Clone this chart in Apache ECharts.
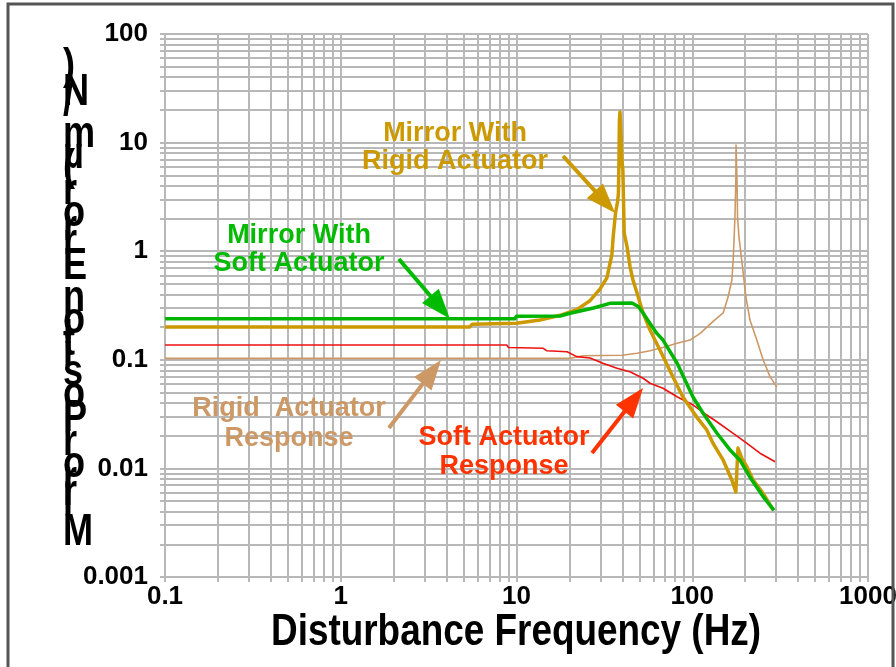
<!DOCTYPE html>
<html><head><meta charset="utf-8">
<script src="https://cdn.jsdelivr.net/npm/echarts@6/dist/echarts.min.js"></script>
<style>html,body{margin:0;padding:0;background:#fff}#c{width:896px;height:667px}</style>
</head><body><div id="c"></div>
<script>
// ---- tick labels ----
const xTickLabels = [0.1, 1, 10, 100, 1000];
const yTickLabels = [0.001, 0.01, 0.1, 1, 10, 100];

// ---- Mirror With Soft Actuator (green) ----
const softMirrorFreq = [0.1, 9.8, 10, 17.7, 20.2, 27.4, 34, 45.4, 49.3, 52.5, 57.5, 62.9, 68.2, 81.9, 101, 115, 138, 164, 187, 213, 253, 292];
const softMirrorResp = [0.239, 0.239, 0.252, 0.253, 0.268, 0.30, 0.331, 0.333, 0.31, 0.27, 0.216, 0.175, 0.152, 0.0935, 0.0454, 0.0324, 0.0212, 0.0148, 0.0119, 0.0083, 0.0055, 0.0041];

// ---- Mirror With Rigid Actuator (gold) ----
const rigidMirrorFreq = [0.1, 5.4, 5.6, 10, 13.6, 17.7, 22, 26.2, 29.9, 32.7, 34.9, 35.5, 36.6, 37.6, 38.0, 38.3, 38.5, 38.8, 39.6, 39.8, 40.3, 41.0, 42.6, 44.3, 46.0, 48.5, 52.5, 57.5, 65.5, 77.7, 88.5, 106, 121, 131, 150, 168, 177, 181, 182, 185, 192, 205, 222, 253, 289];
const rigidMirrorResp = [0.2, 0.2, 0.213, 0.217, 0.2325, 0.257, 0.29, 0.35, 0.45, 0.57, 0.93, 1.36, 2.25, 2.86, 3.4, 6.9, 16.1, 19.1, 19.1, 6.9, 5.6, 1.47, 1.09, 0.715, 0.543, 0.412, 0.27, 0.188, 0.123, 0.0695, 0.0454, 0.0297, 0.0226, 0.01714, 0.0119, 0.00782, 0.00607, 0.00607, 0.0154, 0.0154, 0.0123, 0.0103, 0.0078, 0.0059, 0.00414];

// ---- Rigid Actuator Response (tan) ----
const rigidActFreq = [0.1, 20, 24, 40, 48.5, 57.5, 68, 82, 97, 111, 131, 150, 160, 168, 171, 175, 177, 177.5, 179.5, 180, 181, 184.5, 192, 202, 213, 233, 253, 277, 303];
const rigidActResp = [0.103, 0.103, 0.109, 0.11, 0.115, 0.121, 0.13, 0.142, 0.152, 0.175, 0.225, 0.27, 0.38, 0.54, 0.83, 2.08, 4.5, 9.5, 9.5, 4.0, 2.07, 1.35, 0.78, 0.38, 0.232, 0.152, 0.1, 0.07, 0.056];

// ---- Soft Actuator Response (red) ----
const softActFreq = [0.1, 8.8, 9.0, 14.2, 14.9, 19.4, 22, 26.2, 31, 37.3, 44.2, 52.5, 57.5, 68.2, 81.9, 101, 121, 138, 171, 205, 243, 296];
const softActResp = [0.137, 0.137, 0.13, 0.1276, 0.121, 0.1185, 0.107, 0.104, 0.093, 0.0835, 0.0777, 0.0676, 0.0608, 0.0547, 0.0457, 0.0384, 0.031, 0.0269, 0.021, 0.017, 0.0138, 0.0115];

// ---- annotation arrows: [startFreq, startResp, tipFreq, tipResp] ----
const arrowRigidMirror = [18.4, 7.53, 36.4, 2.25];
const arrowSoftMirror = [2.14, 0.848, 4.18, 0.239];
const arrowRigidAct = [1.88, 0.02355, 3.72, 0.0996];
const arrowSoftAct = [26.9, 0.01387, 52.5, 0.055];

const yTitle = 'Mirror Position Error (\u00b5m/N)';
const xTitle = 'Disturbance Frequency (Hz)';

const SANS = '"Liberation Sans", Arial, sans-serif';
const NARROW_SCALE = 0.82;
const gridColor = '#b8b8b8';

function pairs(f, v) { return f.map((x, i) => [x, v[i]]); }
function logGrid(lo, hi) {
  const out = [];
  for (let e = lo; e < hi; e++) {
    const b = Math.pow(10, e);
    for (let k = 1; k <= 9; k++) out.push(+(k * b).toPrecision(3));
  }
  out.push(+Math.pow(10, hi).toPrecision(3));
  return out;
}
const xGrid = logGrid(-1, 3);
const yGrid = logGrid(-3, 2);
const fmt = v => String(+(+v).toPrecision(3));

const chart = echarts.init(document.getElementById('c'), null, { renderer: 'canvas' });

function axisCommon(grid, labelMargin) {
  return {
    type: 'log', logBase: 10,
    axisLine: { show: true, onZero: false, lineStyle: { color: gridColor, width: 2 } },
    axisTick: { show: true, length: 5, customValues: grid, lineStyle: { color: gridColor, width: 2 } },
    splitLine: { show: true, lineStyle: { color: gridColor, width: 2 } },
    axisLabel: { formatter: fmt, fontFamily: SANS, fontWeight: 'bold', fontSize: 26, color: '#000', margin: labelMargin }
  };
}

const xAxis = Object.assign(axisCommon(xGrid, 7), {
  min: xTickLabels[0], max: xTickLabels[xTickLabels.length - 1]
});
xAxis.axisLabel.customValues = xTickLabels;
const yAxis = Object.assign(axisCommon(yGrid, 17), {
  min: yTickLabels[0], max: yTickLabels[yTickLabels.length - 1]
});
yAxis.axisLabel.customValues = yTickLabels;

function lineSeries(name, f, v, color, width, z) {
  return {
    name, type: 'line', data: pairs(f, v), showSymbol: false, symbol: 'none',
    lineStyle: { color, width, join: 'round' }, z, animation: false, silent: true
  };
}

chart.setOption({
  animation: false,
  backgroundColor: '#fff',
  grid: { left: 165, right: 28, top: 34, bottom: 90, containLabel: false, outerBoundsMode: 'none' },
  xAxis, yAxis,
  series: [
    lineSeries('Rigid Actuator Response', rigidActFreq, rigidActResp, '#cc9966', 1.6, 2),
    lineSeries('Soft Actuator Response', softActFreq, softActResp, '#ee1111', 1.6, 3),
    lineSeries('Mirror With Rigid Actuator', rigidMirrorFreq, rigidMirrorResp, '#cc9900', 3.5, 4),
    lineSeries('Mirror With Soft Actuator', softMirrorFreq, softMirrorResp, '#00b400', 3.5, 5)
  ]
});

// ---- graphics: frame, titles, annotation texts, arrows ----
const graphics = [];
graphics.push({ type: 'rect', shape: { x: 8, y: 4, width: 885, height: 720 }, style: { fill: 'none', stroke: '#555', lineWidth: 3 }, silent: true, z: 100 });

// x-axis title (condensed bold)
graphics.push({ type: 'text', x: 516, y: 633, scaleX: NARROW_SCALE, silent: true, z: 100,
  style: { text: xTitle, font: 'bold 45px ' + SANS, fill: '#000', align: 'center', verticalAlign: 'middle' } });

// stacked y-axis title: upright glyphs advanced upwards by their (condensed) widths
const ctx = document.createElement('canvas').getContext('2d');
const yFontSize = 44;
const yFont = 'bold ' + yFontSize + 'px ' + SANS;
ctx.font = yFont;
let base = 548;
for (const ch of yTitle) {
  const w = ctx.measureText(ch).width * NARROW_SCALE;
  if (ch !== ' ') {
    graphics.push({ type: 'text', x: 63, y: base - 15, scaleX: NARROW_SCALE, silent: true, z: 100,
      style: { text: ch, font: yFont, fill: '#000', align: 'left', verticalAlign: 'middle' } });
  }
  base -= w;
}

function note(text, x, y, color, lh) {
  graphics.push({ type: 'text', x, y, silent: true, z: 100,
    style: { text, font: 'bold 27px ' + SANS, fill: color, align: 'center', verticalAlign: 'middle', lineHeight: lh } });
}
note('Mirror With\nRigid Actuator', 455, 148, '#cc9900', 28);
note('Mirror With\nSoft Actuator', 299, 250, '#00bb00', 28);
note('Rigid  Actuator\nResponse', 289, 424, '#cc9966', 30);
note('Soft Actuator\nResponse', 504, 452, '#ff3300', 29);

function arrow(a, color) {
  const p0 = chart.convertToPixel({ gridIndex: 0 }, [a[0], a[1]]);
  const p1 = chart.convertToPixel({ gridIndex: 0 }, [a[2], a[3]]);
  const dx = p1[0] - p0[0], dy = p1[1] - p0[1];
  const L = Math.hypot(dx, dy), ux = dx / L, uy = dy / L;
  const hl = 30, hw = 11;
  const bx = p1[0] - ux * hl, by = p1[1] - uy * hl;
  graphics.push({ type: 'line', silent: true, z: 101, shape: { x1: p0[0], y1: p0[1], x2: bx + ux * 2, y2: by + uy * 2 }, style: { stroke: color, lineWidth: 4 } });
  graphics.push({ type: 'polygon', silent: true, z: 101, shape: { points: [[p1[0], p1[1]], [bx - uy * hw, by + ux * hw], [bx + uy * hw, by - ux * hw]] }, style: { fill: color } });
}
arrow(arrowRigidMirror, '#cc9900');
arrow(arrowSoftMirror, '#00bb00');
arrow(arrowRigidAct, '#cc9966');
arrow(arrowSoftAct, '#ff3300');

chart.setOption({ graphic: graphics });
</script>
</body></html>
